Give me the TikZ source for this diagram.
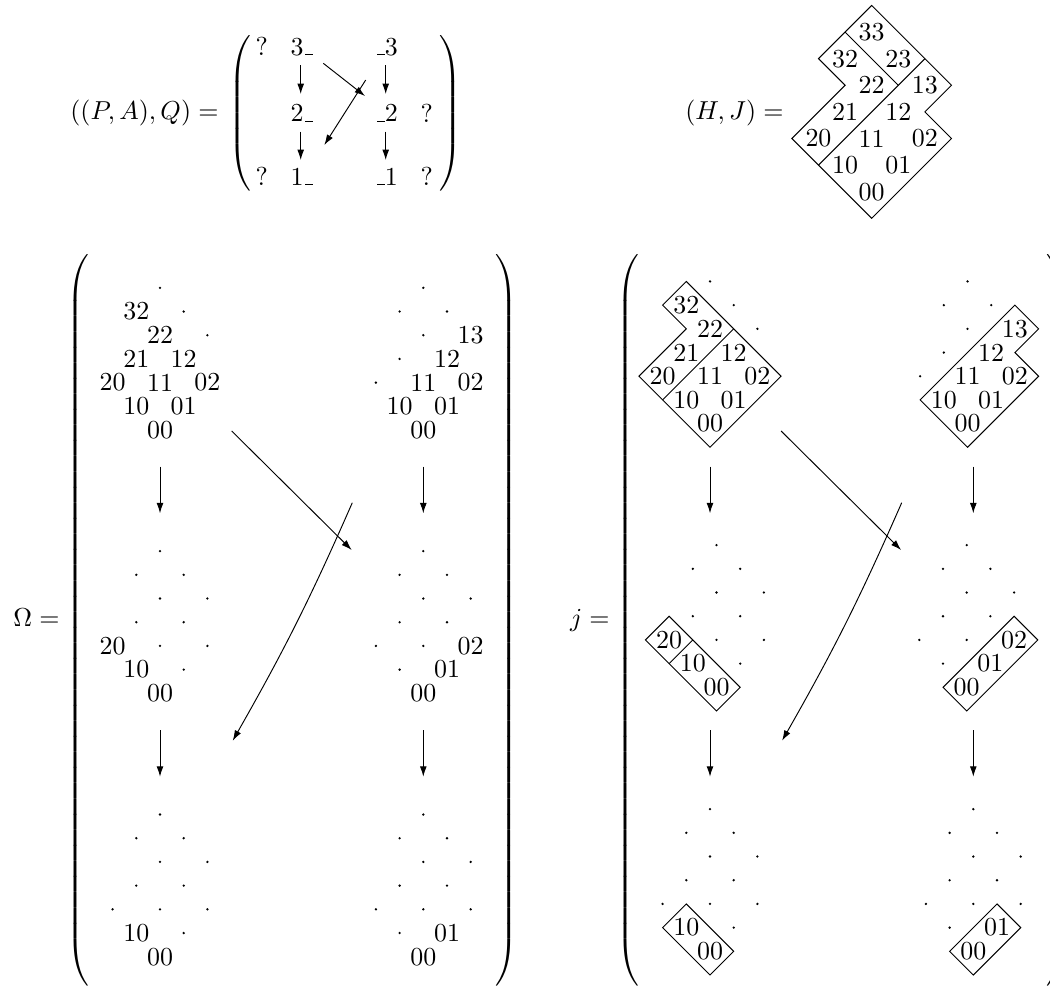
\documentclass[tikz,border=0pt]{standalone}
\usepackage{amsmath}
\usetikzlibrary{positioning,arrows.meta}
\tikzset{
  lbl/.style={inner sep=0pt},
  entry/.style={inner sep=0pt},
  fence/.style={inner sep=0pt},
  tile/.style={draw,line width=0.4pt},
  edge/.style={-{Latex[length=4.4pt,width=2.9pt]},line width=0.4pt},
  lattice/.style={shift={#1},x=10pt,y=10pt},
}
\newcommand\tallopen[1]{$\left(\vrule height #1 depth #1 width 0pt\right.$}
\newcommand\tallclose[1]{$\left.\vrule height #1 depth #1 width 0pt\right)$}
\newcommand\blankmark{\kern.06em\vbox{\hrule width .3em}}
% origin, name, dots, labels, tiles
\newcommand\cellgrid[5]{%
  \begin{scope}[lattice={#1}]
    \foreach \i/\j in {#3} \fill (\j-\i,\i+\j) circle (0.55pt);
    \foreach \i/\j in {#4} \node[lbl] (#2-\i\j) at (\j-\i,\i+\j) {\i\j};
    #5
  \end{scope}}

\begin{document}
\begin{tikzpicture}[x=0.422pt,y=-0.422pt,font=\fontsize{10.95pt}{13.6pt}\selectfont]
\useasboundingbox (0,0) rectangle (1050,988);

% ((P,A),Q)
\node[fence,anchor=base west] (pa-lp) at (228,119.5) {\tallopen{31.3pt}};
\node[fence,anchor=base east] (pa-rp) at (463,119.5) {\tallclose{31.3pt}};
\node[base left=3.8pt of pa-lp,inner sep=0pt] (pa-eq) {$((P,A),Q) =$};
\node[entry] (pa-q1) at (261.7,46.7) {?};
\node[entry] (pa-a3) at (301.7,46.7) {3\blankmark};
\node[entry] (pa-b3) at (386.7,46.7) {\blankmark 3};
\node[entry] (pa-a2) at (301.7,113.3) {2\blankmark};
\node[entry] (pa-b2) at (386.7,113.3) {\blankmark 2};
\node[entry] (pa-q2) at (426.7,113.3) {?};
\node[entry] (pa-q3) at (261.7,176.7) {?};
\node[entry] (pa-a1) at (301.7,176.7) {1\blankmark};
\node[entry] (pa-b1) at (386.7,176.7) {\blankmark 1};
\node[entry] (pa-q4) at (426.7,176.7) {?};
\foreach \c/\x in {a/300.7,b/385.7} {
  \coordinate (pa-\c s1) at (\x,65);    \coordinate (pa-\c e1) at (\x,94);
  \coordinate (pa-\c s2) at (\x,131.7); \coordinate (pa-\c e2) at (\x,160);
  \draw[edge] (pa-\c s1) -- (pa-\c e1);
  \draw[edge] (pa-\c s2) -- (pa-\c e2);
}
\coordinate (pa-d1s) at (323.3,63.3); \coordinate (pa-d1e) at (365,96);
\coordinate (pa-d2s) at (365.7,80);   \coordinate (pa-d2e) at (324.3,145);
\draw[edge] (pa-d1s) -- (pa-d1e);
\draw[edge] (pa-d2s) -- (pa-d2e);

% (H,J)
\node[anchor=base east,inner sep=0pt] (hj-eq) at (784,119.5) {$(H,J) =$};
\begin{scope}[shift={(871.7,191.7)},x=11.23pt,y=11.23pt]
  \draw[tile] (0,7) -- (3,4) -- (2,3) -- (3,2) -- (0,-1) -- (-2,1) -- (-3,2)
    -- (-1,4) -- (-2,5) -- (-1,6) -- cycle;
  \draw[tile] (-1,6) -- (1,4);
  \draw[tile] (2,5) -- (-2,1);
  \foreach \i/\j in {3/3,3/2,2/3,2/2,1/3,2/1,1/2,2/0,1/1,0/2,1/0,0/1,0/0}
    \node[lbl] (hj-\i\j) at (\j-\i,\i+\j) {\i\j};
\end{scope}

% Omega
\node[fence,anchor=base west] (om-lp) at (66,626.5) {\tallopen{152.8pt}};
\node[fence,anchor=base east] (om-rp) at (519,626.5) {\tallclose{152.8pt}};
\node[base left=2.5pt of om-lp,inner sep=0pt] (om-eq) {$\Omega =$};
\cellgrid{(160,430)}{omtl}{3/3,2/3,1/3}{3/2,2/2,2/1,1/2,2/0,1/1,0/2,1/0,0/1,0/0}{}
\cellgrid{(423.3,430)}{omtr}{3/3,3/2,2/3,2/2,2/1,2/0}{1/3,1/2,1/1,0/2,1/0,0/1,0/0}{}
\cellgrid{(160,693.3)}{omml}{3/3,3/2,2/3,2/2,1/3,2/1,1/2,1/1,0/2,0/1}{2/0,1/0,0/0}{}
\cellgrid{(423.3,693.3)}{ommr}{3/3,3/2,2/3,2/2,1/3,2/1,1/2,2/0,1/1,1/0}{0/2,0/1,0/0}{}
\cellgrid{(160,956.7)}{ombl}{3/3,3/2,2/3,2/2,1/3,2/1,1/2,2/0,1/1,0/2,0/1}{1/0,0/0}{}
\cellgrid{(423.3,956.7)}{ombr}{3/3,3/2,2/3,2/2,1/3,2/1,1/2,2/0,1/1,0/2,1/0}{0/1,0/0}{}

% j
\node[fence,anchor=base west] (j-lp) at (616,626.5) {\tallopen{152.8pt}};
\node[fence,anchor=base east] (j-rp) at (1070,626.5) {\tallclose{152.8pt}};
\node[base left=2.5pt of j-lp,inner sep=0pt] (j-eq) {$j =$};
\cellgrid{(710,423.6)}{jtl}{3/3,2/3,1/3}{3/2,2/2,2/1,1/2,2/0,1/1,0/2,1/0,0/1,0/0}
  {\draw[tile] (-1,6) -- (3,2) -- (0,-1) -- (-2,1) -- (-3,2) -- (-1,4) -- (-2,5) -- cycle;
   \draw[tile] (1,4) -- (-2,1);}
\cellgrid{(967.5,423.6)}{jtr}{3/3,3/2,2/3,2/2,2/1,2/0}{1/3,1/2,1/1,0/2,1/0,0/1,0/0}
  {\draw[tile] (2,5) -- (3,4) -- (2,3) -- (3,2) -- (0,-1) -- (-2,1) -- cycle;}
\cellgrid{(716.5,687.3)}{jml}{3/3,3/2,2/3,2/2,1/3,2/1,1/2,1/1,0/2,0/1}{2/0,1/0,0/0}
  {\draw[tile] (-3,2) -- (-2,3) -- (1,0) -- (0,-1) -- cycle;
   \draw[tile] (-1,2) -- (-2,1);}
\cellgrid{(966.7,687.3)}{jmr}{3/3,3/2,2/3,2/2,1/3,2/1,1/2,2/0,1/1,1/0}{0/2,0/1,0/0}
  {\draw[tile] (2,3) -- (3,2) -- (0,-1) -- (-1,0) -- cycle;}
\cellgrid{(710,951.3)}{jbl}{3/3,3/2,2/3,2/2,1/3,2/1,1/2,2/0,1/1,0/2,0/1}{1/0,0/0}
  {\draw[tile] (-2,1) -- (-1,2) -- (1,0) -- (0,-1) -- cycle;}
\cellgrid{(973.3,951.3)}{jbr}{3/3,3/2,2/3,2/2,1/3,2/1,1/2,2/0,1/1,0/2,1/0}{0/1,0/0}
  {\draw[tile] (-1,0) -- (1,2) -- (2,1) -- (0,-1) -- cycle;}

% arrows between the grids
\foreach \c/\x in {oml/160,omr/423.3,jl/710,jr/973.3} {
  \coordinate (\c-s1) at (\x,466.7); \coordinate (\c-e1) at (\x,513.3);
  \coordinate (\c-s2) at (\x,730);   \coordinate (\c-e2) at (\x,776.7);
  \draw[edge] (\c-s1) -- (\c-e1);
  \draw[edge] (\c-s2) -- (\c-e2);
}
\foreach \m/\dx in {om/0,j/549.4} {
  \coordinate (\m-d1s) at (231.7+\dx,431);   \coordinate (\m-d1e) at (351.7+\dx,550);
  \coordinate (\m-d2s) at (352.3+\dx,502.7); \coordinate (\m-d2e) at (232.7+\dx,740.7);
  \draw[edge] (\m-d1s) -- (\m-d1e);
  \draw[edge] (\m-d2s) to[bend left=3] (\m-d2e);
}
\end{tikzpicture}
\end{document}
